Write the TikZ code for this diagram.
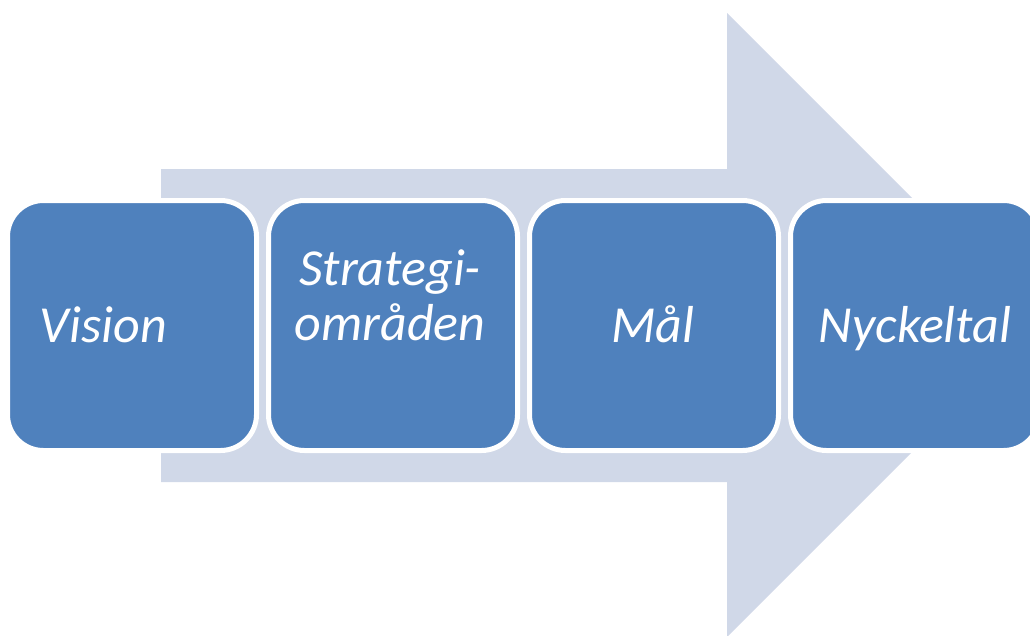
\documentclass[tikz,border=0pt]{standalone}
\usepackage{fontspec}
\setmainfont{Carlito}
\definecolor{boxblue}{HTML}{4F81BD}
\definecolor{arrowbg}{HTML}{D0D8E8}
\begin{document}
\begin{tikzpicture}[x=1pt,y=-1pt,
  stepbox/.style={draw=white, line width=5pt, fill=boxblue, rounded corners=36pt,
    minimum width=249pt, minimum height=250pt, inner sep=0pt},
  steptext/.style={text=white, font=\itshape\fontsize{52}{55}\selectfont, align=center, inner sep=0pt}]
\useasboundingbox (0,0) rectangle (1030,635);
\clip (0,0) rectangle (1030,635);
% background arrow
\fill[arrowbg] (161,169) -- (727,169) -- (727,13) -- (1039,325) -- (727,637) -- (727,482) -- (161,482) -- cycle;
% boxes
\node[stepbox] (b1) at (132,325.5) {};
\node[stepbox] (b2) at (393,325.5) {};
\node[stepbox] (b3) at (654,325.5) {};
\node[stepbox] (b4) at (915,325.5) {};
% texts
\node[steptext, anchor=base] (t1) at (103.5,342.5) {Vision};
\node[steptext, anchor=base] (t2) at (390,340) {Strategi-\\områden};
\node[steptext, anchor=base] (t3) at (653,342) {Mål};
\node[steptext, anchor=base] (t4) at (915,342) {Nyckeltal};
\end{tikzpicture}
\end{document}
